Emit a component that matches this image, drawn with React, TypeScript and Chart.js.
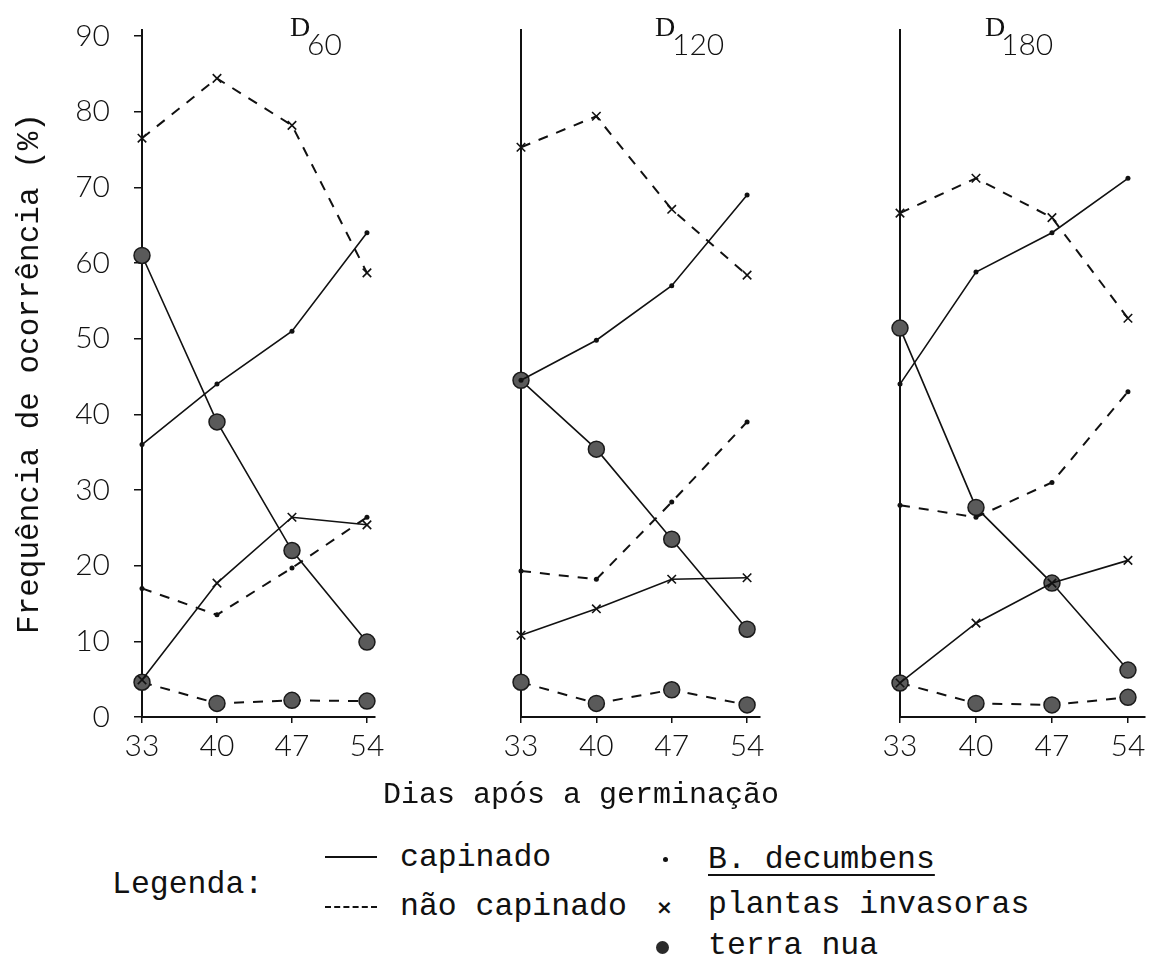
import React, { useEffect, useRef } from "react";
import { Chart, registerables } from "chart.js";

Chart.register(...registerables);

// ---------- data ----------
const days = [33, 40, 47, 54];
const yTickValues = [0, 10, 20, 30, 40, 50, 60, 70, 80, 90];

// D60
const d60DecumbensCap = [36, 44, 51, 64];
const d60DecumbensNao = [17, 13.5, 19.7, 26.4];
const d60InvasorasCap = [4.9, 17.7, 26.4, 25.4];
const d60InvasorasNao = [76.5, 84.4, 78.2, 58.7];
const d60TerraCap = [61, 39, 22, 9.9];
const d60TerraNao = [4.6, 1.8, 2.2, 2.1];

// D120
const d120DecumbensCap = [44.5, 49.8, 57, 69];
const d120DecumbensNao = [19.3, 18.2, 28.4, 39];
const d120InvasorasCap = [10.8, 14.3, 18.2, 18.4];
const d120InvasorasNao = [75.3, 79.4, 67.1, 58.4];
const d120TerraCap = [44.5, 35.4, 23.5, 11.6];
const d120TerraNao = [4.6, 1.8, 3.6, 1.6];

// D180
const d180DecumbensCap = [44, 58.8, 64, 71.2];
const d180DecumbensNao = [28, 26.4, 31, 43];
const d180InvasorasCap = [4.5, 12.4, 17.7, 20.7];
const d180InvasorasNao = [66.6, 71.2, 66, 52.7];
const d180TerraCap = [51.4, 27.7, 17.7, 6.2];
const d180TerraNao = [4.5, 1.8, 1.6, 2.6];

const panelMain = ["D", "D", "D"];
const panelSub = ["60", "120", "180"];

const yTitle = "Frequência de ocorrência (%)";
const xTitle = "Dias após a germinação";

// ---------- styling ----------
const INK = "#111";
const MONO = '"Liberation Mono", "DejaVu Sans Mono", monospace';

type Series = {
  values: number[];
  dashed: boolean;
  marker: "dot" | "cross" | "disc";
};

function buildDatasets(series: Series[]) {
  return series.map((s) => {
    const base: any = {
      data: days.map((d, i) => ({ x: d, y: s.values[i] })),
      borderColor: INK,
      borderWidth: s.dashed ? 2 : 1.6,
      borderDash: s.dashed ? [10, 9] : [],
      tension: 0,
      fill: false,
      clip: false,
      pointBorderColor: INK,
    };
    if (s.marker === "dot") {
      base.pointStyle = "circle";
      base.pointRadius = 2.5;
      base.pointBackgroundColor = INK;
      base.pointBorderWidth = 0;
    } else if (s.marker === "cross") {
      base.pointStyle = "crossRot";
      base.pointRadius = 6;
      base.pointBorderWidth = 1.6;
    } else {
      base.pointStyle = "circle";
      base.pointRadius = 8;
      base.pointBackgroundColor = "#5a5a5a";
      base.pointBorderColor = "#1a1a1a";
      base.pointBorderWidth = 1.5;
    }
    return base;
  });
}

const panelTitlePlugin = {
  id: "panelTitle",
  afterDraw(chart: any, _args: any, opts: any) {
    const ctx = chart.ctx;
    ctx.save();
    ctx.fillStyle = INK;
    ctx.textAlign = "left";
    ctx.textBaseline = "middle";
    ctx.font = `28px "Liberation Serif", serif`;
    ctx.fillText(opts.main, opts.x, opts.y);
    ctx.font = '300 30px Lato, "DejaVu Sans", sans-serif';
    ctx.fillText(opts.sub, opts.subX, opts.subY);
    ctx.restore();
  },
};

type PanelProps = {
  left: number;
  width: number;
  height: number;
  yWidth: number;
  xMax: number;
  padRight: number;
  showY: boolean;
  series: Series[];
  title: { main: string; sub: string; x: number; y: number; subX: number; subY: number };
};

function Panel(p: PanelProps) {
  const ref = useRef<HTMLCanvasElement | null>(null);
  useEffect(() => {
    if (!ref.current) return;
    const tickFont = { family: 'Lato, "DejaVu Sans", sans-serif', weight: "300" as any, size: 30 };
    const chart = new Chart(ref.current, {
      type: "line",
      data: { datasets: buildDatasets(p.series) },
      plugins: [panelTitlePlugin as any],
      options: {
        animation: false,
        responsive: false,
        maintainAspectRatio: false,
        layout: { padding: { top: 30, right: p.padRight, left: 0, bottom: 0 } },
        plugins: {
          legend: { display: false },
          tooltip: { enabled: false },
          panelTitle: p.title,
        } as any,
        scales: {
          x: {
            type: "linear",
            min: 33,
            max: p.xMax,
            afterBuildTicks: (ax: any) => {
              ax.ticks = days.map((v) => ({ value: v }));
            },
            afterFit: (s: any) => {
              s.height = p.height - 717;
              s.paddingLeft = 0;
              s.paddingRight = 0;
            },
            grid: {
              drawOnChartArea: false,
              drawTicks: true,
              tickLength: 6,
              color: INK,
              lineWidth: 1.5,
            },
            border: { display: true, color: INK, width: 2 },
            ticks: {
              font: tickFont,
              color: INK,
              padding: 5,
              maxRotation: 0,
              autoSkip: false,
            },
          },
          y: {
            type: "linear",
            min: 0,
            max: 90.8,
            afterBuildTicks: (ax: any) => {
              ax.ticks = yTickValues.map((v) => ({ value: v }));
            },
            afterFit: (s: any) => {
              s.width = p.yWidth;
              s.paddingTop = 0;
              s.paddingBottom = 0;
            },
            grid: {
              drawOnChartArea: false,
              drawTicks: p.showY,
              tickLength: 8,
              color: INK,
              lineWidth: 1.5,
            },
            border: { display: true, color: INK, width: 2 },
            ticks: {
              display: p.showY,
              font: tickFont,
              color: INK,
              padding: 24,
            },
            title: {
              display: p.showY,
              text: yTitle,
              color: INK,
              font: { family: MONO, size: 31 },
              padding: { top: 11, bottom: 0 },
            },
          },
        },
      },
    });
    return () => chart.destroy();
  }, []);
  return (
    <canvas
      ref={ref}
      width={p.width}
      height={p.height}
      style={{ position: "absolute", left: p.left, top: 0, width: p.width, height: p.height }}
    />
  );
}

function seriesFor(
  decCap: number[],
  decNao: number[],
  invCap: number[],
  invNao: number[],
  terCap: number[],
  terNao: number[]
): Series[] {
  return [
    { values: decCap, dashed: false, marker: "dot" },
    { values: decNao, dashed: true, marker: "dot" },
    { values: invCap, dashed: false, marker: "cross" },
    { values: invNao, dashed: true, marker: "cross" },
    { values: terCap, dashed: false, marker: "disc" },
    { values: terNao, dashed: true, marker: "disc" },
  ];
}

const legendText: React.CSSProperties = {
  position: "absolute",
  fontFamily: MONO,
  fontSize: 31.5,
  lineHeight: "36px",
  color: INK,
  whiteSpace: "pre",
};

export default function App() {
  useEffect(() => {
    document.body.style.margin = "0";
    document.body.style.background = "#fff";
  }, []);

  return (
    <div style={{ position: "relative", width: 1157, height: 964, background: "#fff", overflow: "hidden" }}>
      <Panel
        left={0}
        width={400}
        height={780}
        yWidth={142}
        xMax={54.75}
        padRight={25}
        showY={true}
        series={seriesFor(d60DecumbensCap, d60DecumbensNao, d60InvasorasCap, d60InvasorasNao, d60TerraCap, d60TerraNao)}
        title={{ main: panelMain[0], sub: panelSub[0], x: 290, y: 29, subX: 307, subY: 45 }}
      />
      <Panel
        left={480}
        width={300}
        height={780}
        yWidth={41}
        xMax={55.2}
        padRight={20}
        showY={false}
        series={seriesFor(d120DecumbensCap, d120DecumbensNao, d120InvasorasCap, d120InvasorasNao, d120TerraCap, d120TerraNao)}
        title={{ main: panelMain[1], sub: panelSub[1], x: 175, y: 29, subX: 192, subY: 45 }}
      />
      <Panel
        left={860}
        width={297}
        height={780}
        yWidth={40}
        xMax={55.57}
        padRight={12}
        showY={false}
        series={seriesFor(d180DecumbensCap, d180DecumbensNao, d180InvasorasCap, d180InvasorasNao, d180TerraCap, d180TerraNao)}
        title={{ main: panelMain[2], sub: panelSub[2], x: 125, y: 29, subX: 141, subY: 45 }}
      />

      <div style={{ ...legendText, fontSize: 30, left: 383, top: 777 }}>{xTitle}</div>

      <div style={{ ...legendText, left: 112, top: 867 }}>Legenda:</div>

      <div style={{ position: "absolute", left: 325, top: 856, width: 52, borderTop: `2px solid ${INK}` }} />
      <div style={{ ...legendText, left: 400, top: 840 }}>capinado</div>
      <div style={{ position: "absolute", left: 325, top: 906, width: 52, borderTop: `2px dashed ${INK}` }} />
      <div style={{ ...legendText, left: 400, top: 889 }}>não capinado</div>

      <div style={{ position: "absolute", left: 663, top: 857, width: 5, height: 5, borderRadius: 3, background: INK }} />
      <div style={{ ...legendText, left: 708, top: 842, textDecoration: "underline", textDecorationThickness: 2, textUnderlineOffset: 6 }}>
        B. decumbens
      </div>
      <div style={{ ...legendText, fontFamily: "DejaVu Sans, sans-serif", fontSize: 20, left: 656, top: 889, fontWeight: 700 }}>×</div>
      <div style={{ ...legendText, left: 708, top: 887 }}>plantas invasoras</div>
      <div style={{ position: "absolute", left: 656, top: 941, width: 13, height: 13, borderRadius: 7, background: "#2a2a2a" }} />
      <div style={{ ...legendText, left: 708, top: 928 }}>terra nua</div>
    </div>
  );
}
